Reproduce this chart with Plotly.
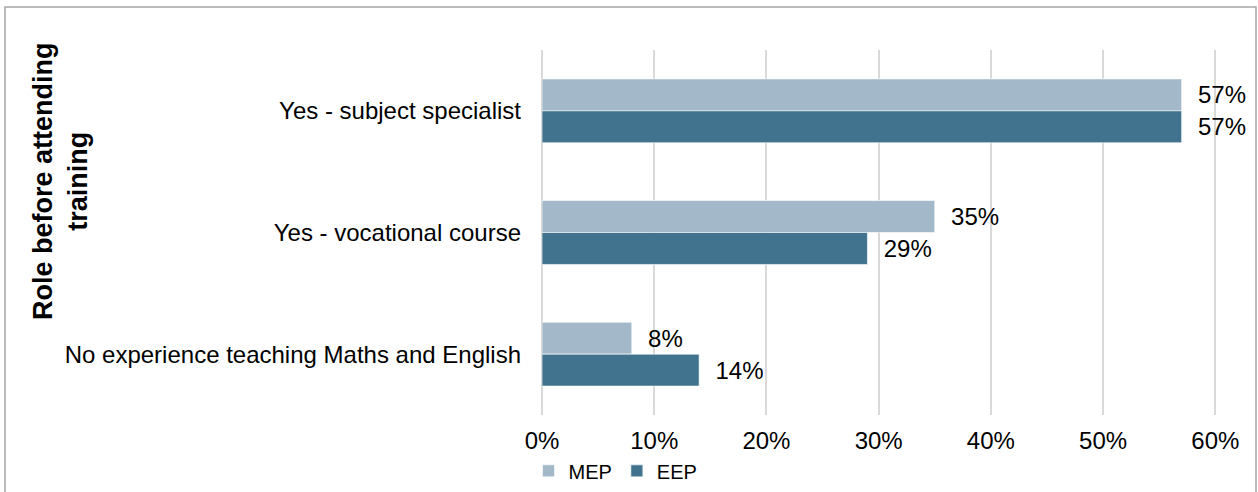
import plotly.graph_objects as go

categories = ["Yes - subject specialist", "Yes - vocational course", "No experience teaching Maths and English"]
mep = [0.57, 0.35, 0.08]
eep = [0.57, 0.29, 0.14]
series_names = ["MEP", "EEP"]
x_ticks = [0, 0.1, 0.2, 0.3, 0.4, 0.5, 0.6]
x_tick_labels = ["0%", "10%", "20%", "30%", "40%", "50%", "60%"]

colors = ["#A3B9C9", "#41738F"]
FONT = "Liberation Sans, Arial, sans-serif"

W, H = 1258, 492
L, R, T, B = 542, 41, 50, 77
pw, ph = W - L - R, H - T - B

fig = go.Figure()
for name, vals, col in zip(series_names, [mep, eep], colors):
    fig.add_trace(go.Bar(
        y=categories, x=vals, name=name, orientation="h",
        marker=dict(color=col, line=dict(color="rgba(255,255,255,0.6)", width=1)),
        text=vals, texttemplate="\u00a0\u00a0%{x:.0%}", textposition="outside",
        textfont=dict(family=FONT, size=24, color="#000000"),
        constraintext="none", cliponaxis=False,
    ))

fig.update_layout(
    width=W, height=H,
    margin=dict(l=L, r=R, t=T, b=B, autoexpand=False),
    paper_bgcolor="white", plot_bgcolor="white",
    barmode="group", bargap=0.475, bargroupgap=0,
    font=dict(family=FONT, size=24, color="#000000"),
    showlegend=True,
    legend=dict(orientation="h", x=-0.02, xanchor="left", y=-0.153, yanchor="middle",
                font=dict(size=20), traceorder="normal", itemwidth=30,
                bgcolor="rgba(0,0,0,0)"),
    xaxis=dict(range=[0, 0.6015], tickvals=x_ticks, ticktext=x_tick_labels,
               showgrid=True, gridcolor="#D9D9D9", gridwidth=1.5,
               zeroline=True, zerolinecolor="#D9D9D9", zerolinewidth=1.5,
               showline=False, ticks="", ticklabelstandoff=9,
               tickfont=dict(size=24)),
    yaxis=dict(autorange="reversed", showgrid=False, zeroline=False, showline=False,
               ticks="", ticklabelstandoff=20, tickfont=dict(size=24)),
)

# vertical axis title (as annotation to control placement)
fig.add_annotation(
    text="<b>Role before attending<br>training</b>", textangle=-90,
    xref="paper", yref="paper",
    x=(60 - L) / pw, y=(T + ph - 181) / ph,
    showarrow=False, font=dict(family=FONT, size=27, color="#000000"),
    xanchor="center", yanchor="middle",
)

# outer chart border
fig.add_shape(type="rect", xref="paper", yref="paper",
              x0=(5 - L) / pw, x1=(1256 - L) / pw,
              y0=(T + ph - 500) / ph, y1=(T + ph - 7) / ph,
              line=dict(color="#A6A6A6", width=1.5), fillcolor="rgba(0,0,0,0)", layer="below")

fig.write_html("out.html", config={"displayModeBar": False},
               post_script="document.body.style.margin='0px';document.body.style.overflow='hidden';")
